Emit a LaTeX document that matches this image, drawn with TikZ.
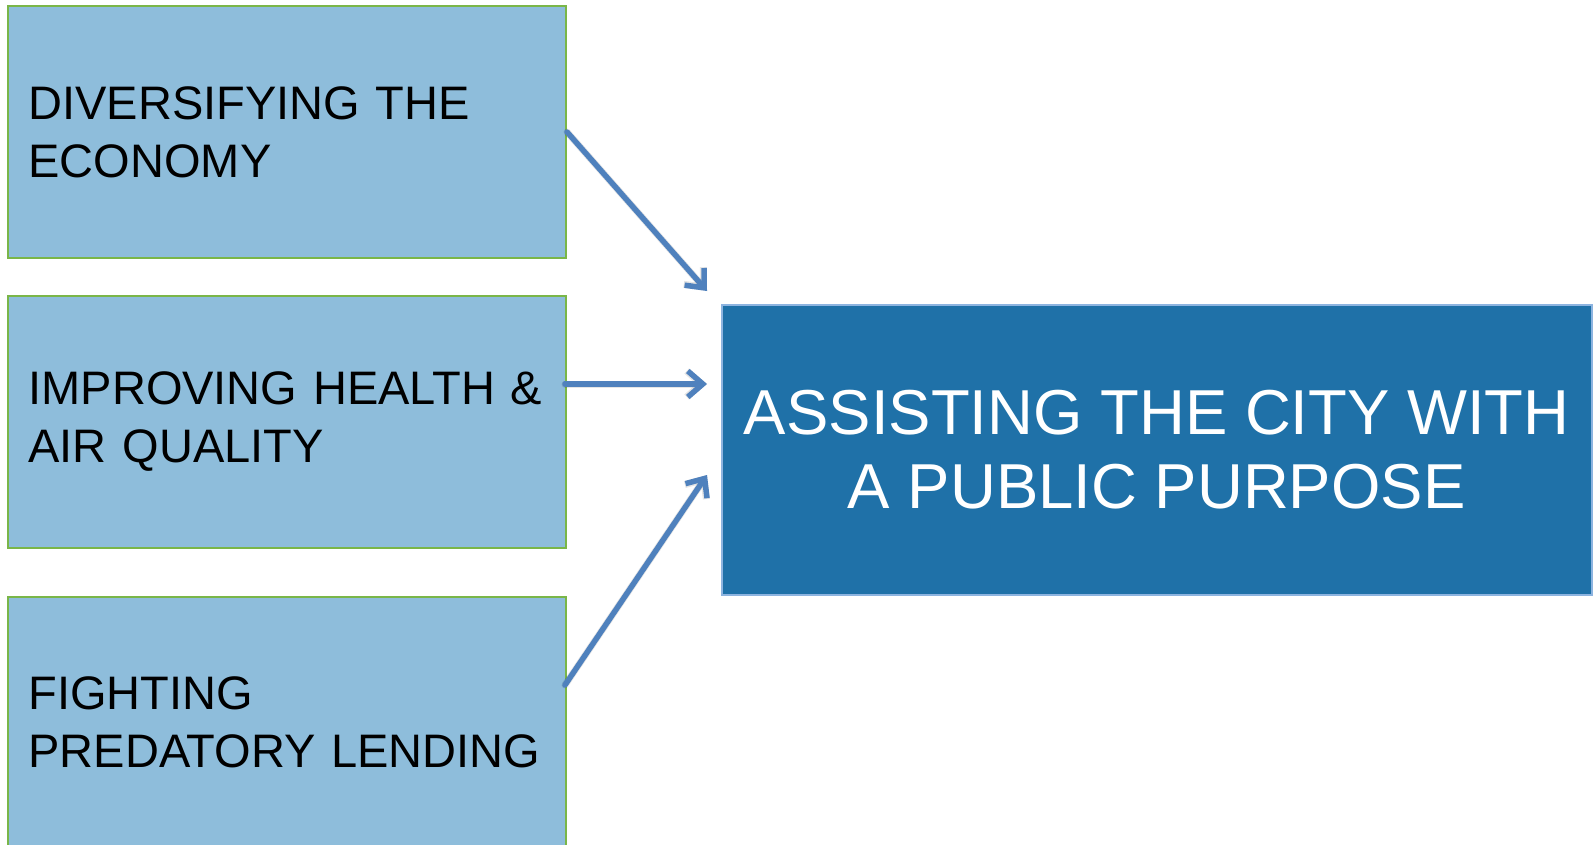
\documentclass[tikz,border=0pt]{standalone}
\usepackage{fontspec}
\setmainfont{Liberation Sans}
\usetikzlibrary{arrows.meta}

\definecolor{goalfill}{HTML}{8EBDDB}
\definecolor{goalline}{HTML}{7AB648}
\definecolor{aimfill}{HTML}{1F71A8}
\definecolor{aimline}{HTML}{8DB4E0}
\definecolor{arrowblue}{HTML}{4F81BD}

\tikzset{
  goalbox/.style={draw=goalline, line width=2pt, fill=goalfill, rectangle,
    anchor=north west, minimum height=252pt, text width=517pt,
    inner xsep=20.5pt, inner ysep=0pt, align=left,
    font=\fontsize{47}{58}\selectfont, text=black},
  aimbox/.style={draw=aimline, line width=1.5pt, fill=aimfill, rectangle,
    anchor=north west, minimum width=870pt, minimum height=290pt,
    inner sep=0pt, align=center,
    font=\fontsize{63.5}{74}\selectfont, text=white},
  flow/.style={draw=arrowblue, line width=5.5pt, line cap=round,
    -{Straight Barb[length=15pt,width=26pt]}},
  flowshade/.style={draw=black, opacity=0.1, line width=7pt, line cap=round,
    -{Straight Barb[length=15pt,width=26pt]}},
}

\begin{document}
\begin{tikzpicture}[x=1pt,y=-1pt]
  \useasboundingbox (0,0) rectangle (1594,845);

  % three contributing goals
  \node[goalbox] (econ) at (7,5) {DIVERSIFYING THE\\ECONOMY};
  \node[goalbox] (health) at (7,295) {IMPROVING HEALTH \&\\AIR QUALITY};
  \node[goalbox, minimum height=251pt] (lending) at (7,596) {FIGHTING\\PREDATORY LENDING};

  % the common purpose
  \node[aimbox] (aim) at (721,304) {ASSISTING THE CITY WITH\\A PUBLIC PURPOSE};

  % arrow ends in front of the purpose box
  \coordinate (in1) at (707,291);
  \coordinate (in2) at (707,384);
  \coordinate (in3) at (707,475);
  \coordinate (out2) at (565,384);
  \coordinate (out3) at (565,685);

  % soft shadows under the arrows
  \begin{scope}[shift={(1.5,2)}]
    \draw[flowshade] (econ.east) -- (in1);
    \draw[flowshade] (out2) -- (in2);
    \draw[flowshade] (out3) -- (in3);
  \end{scope}

  \draw[flow] (econ.east) -- (in1);
  \draw[flow] (out2) -- (in2);
  \draw[flow] (out3) -- (in3);
\end{tikzpicture}
\end{document}
